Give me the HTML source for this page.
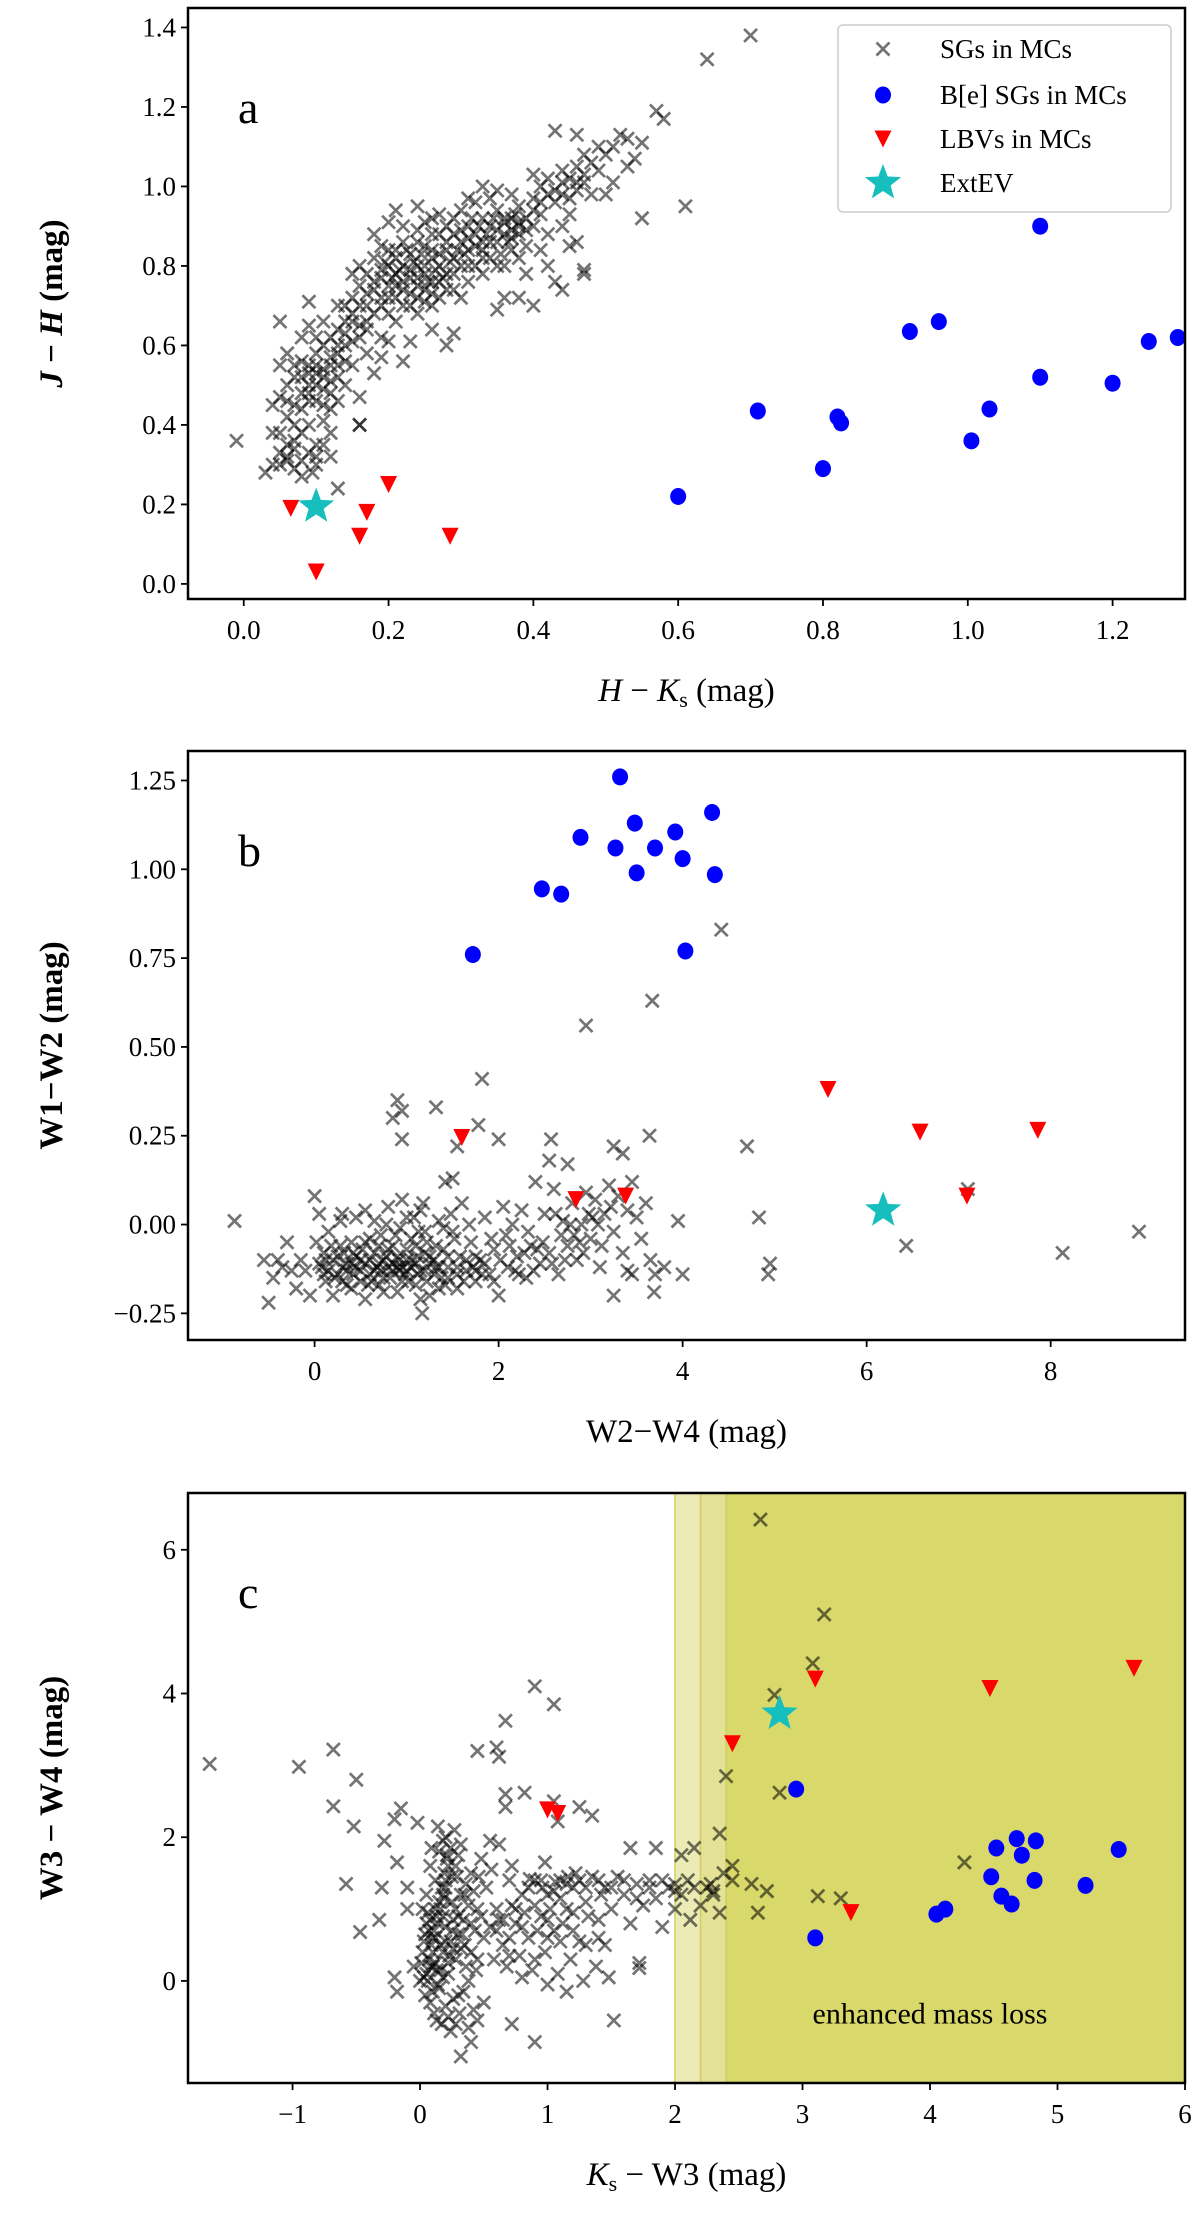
<!DOCTYPE html>
<html><head><meta charset="utf-8">
<style>
html,body{margin:0;padding:0;background:#fff;}
svg{display:block;font-family:"Liberation Serif",serif;}
svg text{font-family:"Liberation Serif",serif;}
</style></head>
<body>
<svg id="fig" width="1200" height="2216" viewBox="0 0 1200 2216" xmlns="http://www.w3.org/2000/svg"></svg>
<script>
// ---------- Panel a data ----------
const sgA = [[-0.01,0.36],[0.03,0.28],[0.04,0.30],[0.05,0.33],[0.04,0.38],[0.06,0.35],[0.07,0.29],[0.08,0.31],[0.06,0.42],[0.05,0.47],[0.07,0.52],[0.08,0.48],[0.09,0.55],[0.10,0.58],[0.08,0.62],[0.09,0.65],[0.11,0.60],[0.12,0.55],[0.10,0.50],[0.11,0.45],[0.09,0.40],[0.10,0.35],[0.08,0.27],[0.07,0.40],[0.06,0.50],[0.05,0.55],[0.04,0.45],[0.12,0.48],[0.13,0.52],[0.12,0.62],[0.13,0.70],[0.14,0.66],[0.15,0.72],[0.14,0.60],[0.11,0.41],[0.10,0.30],[0.12,0.32],[0.13,0.24],[0.095,0.28],[0.05,0.66],[0.09,0.71],[0.15,0.55],[0.16,0.47],[0.17,0.58],[0.16,0.40],[0.06,0.58],[0.07,0.45],[0.09,0.50],[0.10,0.53],[0.08,0.56],[0.11,0.52],[0.12,0.44],[0.14,0.50],[0.15,0.61],[0.16,0.65],[0.17,0.70],[0.18,0.74],[0.19,0.77],[0.20,0.80],[0.18,0.68],[0.19,0.62],[0.17,0.64],[0.16,0.75],[0.16,0.80],[0.15,0.78],[0.17,0.78],[0.18,0.82],[0.19,0.85],[0.20,0.75],[0.21,0.78],[0.22,0.80],[0.21,0.72],[0.20,0.68],[0.22,0.74],[0.23,0.77],[0.23,0.83],[0.24,0.80],[0.25,0.78],[0.24,0.72],[0.25,0.85],[0.26,0.82],[0.26,0.76],[0.27,0.80],[0.28,0.84],[0.27,0.88],[0.28,0.78],[0.29,0.82],[0.30,0.86],[0.30,0.80],[0.31,0.90],[0.31,0.84],[0.32,0.88],[0.32,0.80],[0.33,0.92],[0.33,0.86],[0.34,0.82],[0.34,0.90],[0.35,0.94],[0.35,0.86],[0.36,0.88],[0.36,0.80],[0.37,0.92],[0.37,0.84],[0.38,0.95],[0.38,0.88],[0.39,0.92],[0.39,0.85],[0.40,0.97],[0.40,0.90],[0.41,1.00],[0.41,0.93],[0.42,1.02],[0.42,0.88],[0.43,0.96],[0.44,1.04],[0.44,0.98],[0.45,1.02],[0.45,0.93],[0.46,1.05],[0.46,0.99],[0.47,1.01],[0.47,1.08],[0.48,1.06],[0.49,1.10],[0.50,1.08],[0.51,1.10],[0.51,1.01],[0.52,1.13],[0.53,1.12],[0.54,1.07],[0.55,1.11],[0.57,1.19],[0.58,1.17],[0.64,1.32],[0.70,1.38],[0.43,1.14],[0.46,1.13],[0.61,0.95],[0.55,0.92],[0.47,0.78],[0.47,0.79],[0.46,0.86],[0.44,0.74],[0.43,0.76],[0.40,0.70],[0.38,0.72],[0.35,0.69],[0.36,0.72],[0.29,0.63],[0.28,0.60],[0.23,0.61],[0.20,0.61],[0.22,0.56],[0.19,0.57],[0.18,0.53],[0.16,0.40],[0.21,0.66],[0.24,0.68],[0.26,0.70],[0.27,0.72],[0.29,0.74],[0.31,0.76],[0.33,0.78],[0.22,0.90],[0.20,0.91],[0.18,0.88],[0.25,0.91],[0.27,0.93],[0.30,0.94],[0.32,0.96],[0.34,0.97],[0.23,0.70],[0.21,0.84],[0.24,0.86],[0.26,0.88],[0.28,0.90],[0.29,0.78],[0.30,0.72],[0.25,0.74],[0.19,0.72],[0.17,0.66],[0.14,0.56],[0.13,0.46],[0.12,0.38],[0.11,0.35],[0.07,0.34],[0.06,0.31],[0.05,0.38],[0.08,0.44],[0.09,0.46],[0.10,0.62],[0.11,0.66],[0.13,0.58],[0.15,0.66],[0.36,0.92],[0.38,0.82],[0.39,0.78],[0.41,0.84],[0.42,0.80],[0.44,0.90],[0.45,0.85],[0.48,0.98],[0.49,1.04],[0.50,0.98],[0.53,1.05],[0.40,1.03],[0.37,0.98],[0.35,0.99],[0.33,1.00],[0.31,0.97],[0.24,0.95],[0.21,0.94],[0.26,0.64],
[0.19,0.79],[0.195,0.81],[0.205,0.77],[0.21,0.82],[0.215,0.79],[0.22,0.76],[0.225,0.84],[0.23,0.79],[0.235,0.81],[0.24,0.77],[0.245,0.83],[0.25,0.80],[0.255,0.76],[0.26,0.84],[0.265,0.79],[0.27,0.83],[0.275,0.77],[0.28,0.86],[0.285,0.81],[0.29,0.88],[0.295,0.84],[0.30,0.89],[0.305,0.83],[0.31,0.87],[0.315,0.92],[0.32,0.85],[0.325,0.90],[0.33,0.84],[0.335,0.88],[0.34,0.86],[0.345,0.92],[0.35,0.89],[0.355,0.83],[0.36,0.91],[0.365,0.86],[0.37,0.89],[0.375,0.93],[0.38,0.91],[0.20,0.72],[0.21,0.75],[0.22,0.70],[0.23,0.73],[0.24,0.75],[0.25,0.71],[0.26,0.73],[0.27,0.76],[0.28,0.74],[0.18,0.76],[0.17,0.73],[0.19,0.70],[0.20,0.84],[0.22,0.86],[0.24,0.89],[0.26,0.92],[0.29,0.92],[0.31,0.80],[0.33,0.82],[0.35,0.80],[0.37,0.87],[0.39,0.89],[0.41,0.96],[0.43,0.99],[0.45,0.97],[0.47,1.03],[0.46,1.01],[0.44,1.01],[0.42,0.98],[0.40,0.94],[0.38,0.90],[0.08,0.52],[0.09,0.53],[0.10,0.55],[0.11,0.54],[0.09,0.48],[0.10,0.46],[0.08,0.38],[0.07,0.36],[0.06,0.32],[0.05,0.30],[0.09,0.33],[0.10,0.32],[0.12,0.57],[0.13,0.60],[0.14,0.63],[0.15,0.68],[0.16,0.70],[0.14,0.70],[0.16,0.62],[0.13,0.64],[0.07,0.55],[0.06,0.46],[0.11,0.49],[0.12,0.51],[0.13,0.55]];
const beA = [[0.60,0.22],[0.71,0.435],[0.80,0.29],[0.82,0.42],[0.825,0.405],[0.92,0.635],[0.96,0.66],[1.005,0.36],[1.03,0.44],[1.10,0.90],[1.10,0.52],[1.20,0.505],[1.25,0.61],[1.29,0.62]];
const lbvA = [[0.065,0.19],[0.10,0.03],[0.16,0.12],[0.17,0.18],[0.20,0.25],[0.285,0.12]];
const starA = [[0.10,0.195]];
const xTicksA = [0.0,0.2,0.4,0.6,0.8,1.0,1.2];
const yTicksA = [0.0,0.2,0.4,0.6,0.8,1.0,1.2,1.4];

// ---------- Panel b data ----------
const sgB = [[-0.87,0.01],[4.42,0.83],[3.67,0.63],[2.95,0.56],[1.82,0.41],[0.90,0.35],[0.95,0.32],[0.85,0.30],[1.32,0.33],[0.95,0.24],[1.78,0.28],[2.00,0.24],[2.57,0.24],[3.64,0.25],[4.70,0.22],[3.25,0.22],[3.35,0.20],[2.55,0.18],[4.83,0.02],[3.95,0.01],[6.43,-0.06],[7.10,0.10],[8.13,-0.08],[8.96,-0.02],[4.95,-0.11],[4.93,-0.14],[4.00,-0.14],[3.69,-0.19],[3.45,-0.14],[3.25,-0.20],[1.17,-0.25],[-0.50,-0.22],[1.50,0.13],[1.42,0.12],[2.75,0.17],[1.55,0.22],
[-0.55,-0.10],[-0.45,-0.15],[-0.35,-0.12],[-0.30,-0.05],[-0.20,-0.18],[-0.15,-0.10],[-0.05,-0.20],[0.00,0.08],[0.02,-0.05],[0.05,0.03],[0.08,-0.12],[0.10,-0.08],[0.12,-0.16],[0.15,-0.02],[0.20,-0.10],[0.25,-0.14],[0.28,-0.06],[0.30,0.03],[0.35,-0.11],[0.40,-0.18],[0.42,-0.08],[0.45,0.02],[0.50,-0.13],[0.55,-0.05],[0.58,-0.17],[0.60,-0.10],[0.65,0.01],[0.68,-0.12],[0.70,-0.06],[0.75,-0.15],[0.78,-0.09],[0.80,0.05],[0.85,-0.13],[0.88,-0.03],[0.90,-0.19],[0.92,-0.10],[0.95,0.07],[0.98,-0.14],[1.00,-0.07],[1.05,-0.12],[1.08,0.02],[1.10,-0.17],[1.12,-0.09],[1.15,0.04],[1.20,-0.13],[1.22,-0.05],[1.25,-0.20],[1.30,-0.10],[1.35,0.01],[1.38,-0.15],[1.40,-0.07],[1.45,-0.12],[1.50,-0.02],[1.55,-0.18],[1.58,-0.09],[1.60,0.06],[1.65,-0.13],[1.70,-0.05],[1.75,-0.16],[1.80,-0.10],[1.85,0.02],[1.90,-0.14],[1.95,-0.07],[2.00,-0.20],[2.05,0.05],[2.08,-0.03],[2.10,-0.12],[2.15,0.00],[2.20,-0.09],[2.25,0.04],[2.30,-0.15],[2.35,-0.06],[2.40,0.12],[2.45,-0.11],[2.50,0.03],[2.55,-0.08],[2.60,0.10],[2.65,-0.14],[2.70,0.01],[2.75,-0.06],[2.80,0.06],[2.85,-0.10],[2.90,0.00],[2.95,0.09],[3.00,-0.04],[3.05,0.07],[3.10,-0.12],[3.15,0.03],[3.20,0.11],[3.25,-0.02],[3.30,0.08],[3.35,-0.08],[3.40,0.04],[3.45,0.12],[3.50,0.02],[3.55,-0.04],[3.60,0.06],[3.65,-0.10],[3.70,-0.14],[3.80,-0.12],[3.40,-0.13],
[0.30,-0.12],[0.50,-0.10],[0.60,-0.14],[0.70,-0.11],[0.80,-0.12],[0.90,-0.09],[1.00,-0.13],[1.10,-0.11],[1.20,-0.08],[1.30,-0.14],[0.40,-0.05],[0.65,-0.08],[0.85,-0.06],[1.05,-0.04],[1.25,-0.11],[1.45,-0.15],[0.20,-0.20],[0.35,-0.17],[0.55,-0.21],[0.75,-0.19],[0.95,-0.16],[1.15,-0.21],[1.35,-0.18],[1.55,-0.12],[1.75,-0.09],[1.95,-0.16],[0.10,-0.14],[0.18,-0.06],[0.45,-0.09],[0.72,-0.03],[0.93,-0.01],[1.13,-0.02],[1.32,-0.06],[1.52,-0.04],[1.72,-0.12],[1.92,-0.04],[2.12,-0.06],[2.22,-0.14],[2.32,-0.02],[2.42,-0.07],[0.28,0.01],[0.55,0.04],[0.78,0.00],[1.00,0.02],[1.18,0.06],[1.48,0.03],[1.68,0.00],[2.62,0.03],[2.72,-0.10],[2.82,-0.03],[2.92,-0.08],[3.02,0.02],[3.12,-0.06],[3.22,0.05],
[0.05,-0.11],[0.15,-0.13],[0.25,-0.09],[0.35,-0.13],[0.45,-0.12],[0.55,-0.11],[0.65,-0.13],[0.75,-0.10],[0.85,-0.11],[0.95,-0.12],[1.05,-0.10],[1.15,-0.13],[1.25,-0.09],[1.35,-0.12],[1.45,-0.09],[1.55,-0.14],[1.65,-0.10],[1.75,-0.13],[1.85,-0.11],[0.12,-0.10],[0.22,-0.15],[0.32,-0.08],[0.42,-0.14],[0.52,-0.07],[0.62,-0.16],[0.72,-0.13],[0.82,-0.15],[0.92,-0.13],[1.02,-0.16],[1.12,-0.14],[1.22,-0.16],[1.32,-0.12],[1.42,-0.17],[1.62,-0.16],[1.82,-0.14],[0.60,-0.04],[0.80,-0.07],[1.00,-0.10],[1.20,-0.02],[1.40,-0.01],[0.70,-0.17],[0.90,-0.12],[1.10,-0.06],[0.50,-0.16],[0.40,-0.11],[0.30,-0.16],[-0.10,-0.13],[-0.25,-0.13],[-0.40,-0.10],[2.02,-0.10],[2.18,-0.13],[2.28,-0.08],[2.38,-0.13],[2.48,-0.05],[2.58,-0.11],[2.68,-0.03],[2.78,0.00],[2.88,-0.05],[2.98,0.03],[3.08,0.00]];
const beB = [[1.72,0.76],[2.47,0.945],[2.68,0.93],[2.89,1.09],[3.27,1.06],[3.32,1.26],[3.48,1.13],[3.50,0.99],[3.70,1.06],[3.92,1.105],[4.00,1.03],[4.03,0.77],[4.32,1.16],[4.35,0.985]];
const lbvB = [[1.60,0.245],[2.84,0.07],[3.38,0.08],[5.58,0.38],[6.58,0.26],[7.09,0.08],[7.86,0.265]];
const starB = [[6.18,0.04]];
const xTicksB = [0,2,4,6,8];
const yTicksB = [-0.25,0.00,0.25,0.50,0.75,1.00,1.25];

// ---------- Panel c data ----------
const sgC = [[-1.65,3.02],[-0.95,2.98],[-0.68,3.22],[-0.68,2.43],[-0.50,2.80],[-0.52,2.15],[-0.58,1.35],[-0.47,0.68],[-0.32,0.85],[-0.30,1.30],[-0.28,1.95],[-0.20,2.25],[-0.15,2.40],[-0.18,1.65],[-0.10,1.30],[-0.10,1.00],[-0.20,0.05],[-0.18,-0.15],[-0.05,0.20],[-0.02,2.20],[0.45,3.20],[0.60,3.25],[0.62,3.12],[0.67,3.62],[0.90,4.10],[1.05,3.85],[0.67,2.60],[0.67,2.42],[0.82,2.62],[1.05,2.50],[1.08,2.22],[1.25,2.42],[1.35,2.30],[0.55,1.95],[0.62,1.90],[0.72,1.60],[0.98,1.65],[1.00,-0.05],[1.15,-0.15],[1.52,-0.55],[0.90,-0.85],[0.72,-0.60],[0.32,-1.05],[0.40,-0.85],[1.72,0.18],[1.72,0.25],[1.45,0.50],[1.48,0.05],[1.65,1.85],[1.85,1.85],[2.00,1.35],[2.05,1.75],[2.15,1.85],[2.12,0.85],[2.30,1.25],[2.35,0.95],[2.35,2.05],[2.40,2.85],[2.45,1.60],[2.45,1.40],[2.60,1.35],[2.65,0.95],[2.72,1.25],[2.78,3.98],[2.82,2.62],[2.67,6.42],[3.08,4.42],[3.17,5.10],[3.12,1.18],[3.30,1.15],[4.27,1.65],
[0.00,0.00],[0.02,0.40],[0.05,0.80],[0.05,1.20],[0.08,1.60],[0.08,-0.30],[0.10,0.20],[0.10,0.60],[0.12,1.00],[0.12,1.40],[0.15,1.80],[0.15,-0.10],[0.18,0.40],[0.18,0.90],[0.20,1.30],[0.20,2.00],[0.22,-0.50],[0.22,0.10],[0.25,0.70],[0.25,1.10],[0.28,1.60],[0.28,0.30],[0.30,-0.20],[0.30,0.90],[0.32,1.90],[0.35,0.50],[0.35,1.20],[0.38,0.00],[0.40,0.80],[0.40,1.50],[0.42,-0.40],[0.45,0.30],[0.45,1.00],[0.48,1.70],[0.50,0.60],[0.50,-0.30],[0.03,0.55],[0.06,0.95],[0.13,0.15],[0.16,0.50],[0.19,1.15],[0.23,0.35],[0.26,0.85],[0.29,1.45],[0.33,0.65],[0.36,0.20],[0.04,-0.20],[0.09,1.85],[0.14,2.15],[0.21,1.75],[0.27,2.10],[0.17,-0.60],[0.24,-0.70],[0.31,-0.45],[0.38,-0.65],[0.11,-0.45],[0.01,0.25],[0.07,0.70],[0.20,0.55],[0.32,0.45],[0.43,0.70],
[0.55,0.75],[0.60,1.00],[0.65,0.50],[0.70,1.40],[0.75,0.80],[0.80,1.20],[0.85,0.60],[0.90,1.40],[0.95,0.90],[1.00,1.20],[1.05,0.70],[1.10,1.40],[1.15,1.00],[1.20,1.30],[1.25,0.55],[1.30,1.10],[1.35,1.45],[1.40,0.85],[1.45,1.30],[1.50,1.00],[1.55,1.45],[1.60,1.20],[1.65,0.80],[1.70,1.35],[1.75,1.05],[1.80,1.40],[1.85,1.15],[1.90,0.75],[1.95,1.30],[2.00,1.00],[2.05,1.20],[2.10,1.40],[2.20,1.05],[2.25,1.30],[2.30,1.20],[0.58,0.30],[0.68,0.20],[0.78,0.35],[0.88,0.15],[0.98,0.40],[1.08,0.10],[1.18,0.30],[1.28,0.00],[1.38,0.20],[0.62,0.85],[0.72,1.05],[0.82,0.95],[0.92,0.70],[1.02,1.00],[1.12,0.80],[1.22,1.50],[1.32,0.90],[1.42,1.20],[0.86,1.42],[0.96,1.30],[1.06,1.38],[1.16,1.45],[0.52,1.30],[0.56,1.55],
[0.05,0.10],[0.07,0.30],[0.09,0.50],[0.11,0.70],[0.13,0.90],[0.15,1.10],[0.17,1.30],[0.19,1.50],[0.21,1.70],[0.06,0.00],[0.08,0.20],[0.10,0.40],[0.12,0.60],[0.14,0.80],[0.16,1.00],[0.18,1.20],[0.20,1.40],[0.22,1.60],[0.24,1.85],[0.10,-0.15],[0.14,-0.05],[0.18,0.05],[0.22,0.25],[0.26,0.45],[0.30,0.65],[0.34,0.85],[0.38,1.05],[0.42,1.25],[0.46,1.45],[0.04,0.65],[0.08,0.85],[0.12,0.25],[0.16,0.15],[0.20,0.75],[0.24,0.55],[0.28,1.00],[0.32,1.20],[0.36,1.35],[0.40,0.40],[0.44,0.15],[0.48,0.90],[0.26,-0.25],[0.34,-0.15],[0.20,-0.35],[0.13,-0.55],[0.28,-0.60],[0.45,-0.55],[0.02,1.00],[0.03,0.05],[0.18,1.95],[0.30,1.75],[0.25,1.45],[0.60,0.70],[0.65,0.85],[0.70,0.60],[0.75,1.00],[0.80,0.75],[0.85,1.30],[0.90,1.05],[0.95,1.40],[1.00,0.85],[1.05,1.25],[1.10,1.15],[1.15,1.35],[1.20,0.95],[1.25,1.40],[1.30,1.30],[1.40,1.40],[1.50,1.30],[1.60,1.40],[1.70,1.15],[1.80,1.30],[1.90,1.40],[2.00,1.25],[2.15,1.30],[2.28,1.35],[2.38,1.50],[0.70,0.35],[0.80,0.05],[0.90,0.30],[1.00,0.60],[1.10,0.55],[1.20,0.70],[1.30,0.50],[1.40,0.60]];
const beC = [[2.95,2.67],[3.10,0.60],[4.05,0.93],[4.12,1.00],[4.48,1.45],[4.52,1.85],[4.56,1.18],[4.64,1.07],[4.68,1.98],[4.72,1.75],[4.82,1.40],[4.83,1.95],[5.22,1.33],[5.48,1.83]];
const lbvC = [[1.00,2.38],[1.08,2.33],[2.45,3.30],[3.10,4.20],[3.38,0.95],[4.47,4.07],[5.60,4.35]];
const starC = [[2.82,3.72]];
const bandEdges = [2.0,2.2,2.4];
const xTicksC = [-1,0,1,2,3,4,5,6];
const yTicksC = [0,2,4,6];

// ---------- drawing ----------
const NS = "http://www.w3.org/2000/svg";
const svg = document.getElementById('fig');
function mk(tag, attrs, parent){
  const e = document.createElementNS(NS, tag);
  for (const k in attrs) e.setAttribute(k, attrs[k]);
  (parent||svg).appendChild(e);
  return e;
}
function scale(d0,d1,p0,p1){ return v => p0 + (v-d0)/(d1-d0)*(p1-p0); }

const L = 188, R = 1185;
const FF = '"Liberation Serif", serif';
const panels = {
  a:{top:8,bottom:599,x:scale(-0.077,1.3,L,R),y:scale(-0.038,1.449,599,8)},
  b:{top:751,bottom:1340,x:scale(-1.376,9.46,L,R),y:scale(-0.325,1.333,1340,751)},
  c:{top:1493,bottom:2083,x:scale(-1.82,6.0,L,R),y:scale(-1.42,6.79,2083,1493)}
};

function cross(g,px,py){
  const s=6.5;
  const p = mk('path',{d:`M${px-s},${py-s}L${px+s},${py+s}M${px-s},${py+s}L${px+s},${py-s}`,stroke:'rgba(0,0,0,0.55)','stroke-width':2.7,fill:'none'},g);
  
  
}
function dot(g,px,py){
  const c = mk('ellipse',{cx:px,cy:py,rx:8,ry:8.5,fill:'#0000ff'},g);
  
  
}
function tri(g,px,py){
  const s=8.5;
  const t = mk('polygon',{points:`${px-s},${py-s} ${px+s},${py-s} ${px},${py+s}`,fill:'#ff0000'},g);
  
  
}
function star(g,px,py,r){
  let pts=[];
  for(let i=0;i<10;i++){
    const rr = i%2? r*0.42 : r;
    const a = -Math.PI/2 + i*Math.PI/5;
    pts.push((px+rr*Math.cos(a)).toFixed(1)+','+(py+rr*Math.sin(a)).toFixed(1));
  }
  const s = mk('polygon',{points:pts.join(' '),fill:'#17bebe'},g);
  
  
}

function panel(key, sg, be, lbv, st, xt, yt, xfmt, yfmt, xlab, ylab, letter){
  const P = panels[key];
  const g = mk('g',{'font-family':FF});
  
  
  if(key==='c'){
    const cols=['#ecebb6','#e3e296','#d8d86b'];
    const ends=[bandEdges[1],bandEdges[2],6.0];
    for(let i=0;i<3;i++){
      const x0=P.x(bandEdges[i]), x1=P.x(ends[i]);
      const r = mk('rect',{x:x0,y:P.top,width:x1-x0,height:P.bottom-P.top,fill:cols[i]},g);
      
      
      const ln = mk('line',{x1:x0,x2:x0,y1:P.top,y2:P.bottom,stroke:'#cfcf60','stroke-width':1.5},g);
      
      
    }
    const t = mk('text',{x:P.x(4.0),y:P.y(-0.45)+10,'font-size':30,'text-anchor':'middle',fill:'#000','font-family':FF},g);
    t.textContent='enhanced mass loss';
    
    
  }
  const sgG = mk('g',{},g);
  
  
  sg.forEach(p=>cross(sgG,P.x(p[0]),P.y(p[1])));
  const beG = mk('g',{},g);
  
  
  be.forEach(p=>dot(beG,P.x(p[0]),P.y(p[1])));
  const lG = mk('g',{},g);
  
  
  lbv.forEach(p=>tri(lG,P.x(p[0]),P.y(p[1])));
  st.forEach(p=>star(g,P.x(p[0]),P.y(p[1]),19));
  const fr = mk('rect',{x:L,y:P.top,width:R-L,height:P.bottom-P.top,fill:'none',stroke:'#000','stroke-width':2.5},g);
  
  
  xt.forEach(v=>{
    const px=P.x(v);
    mk('line',{x1:px,x2:px,y1:P.bottom,y2:P.bottom+7,stroke:'#000','stroke-width':1.8},g);
    const t=mk('text',{x:px,y:P.bottom+40,'font-size':27,'text-anchor':'middle','font-family':FF},g);
    t.textContent=xfmt(v);
    
    
  });
  yt.forEach(v=>{
    const py=P.y(v);
    mk('line',{x1:L-7,x2:L,y1:py,y2:py,stroke:'#000','stroke-width':1.8},g);
    const t=mk('text',{x:L-12,y:py+9,'font-size':27,'text-anchor':'end','font-family':FF},g);
    t.textContent=yfmt(v);
    
    
  });
  const xl = mk('text',{x:(L+R)/2,y:P.bottom+102,'font-size':33,'text-anchor':'middle','font-family':FF},g);
  xl.innerHTML = xlab;
  
  
  const yl = mk('text',{x:0,y:0,'font-size':33,'text-anchor':'middle','font-weight':'bold','font-family':FF,transform:`translate(62,${(P.top+P.bottom)/2}) rotate(-90)`},g);
  yl.innerHTML = ylab;
  
  
  const lt = mk('text',{x:238,y:P.top+115,'font-size':46,'font-family':FF},g);
  lt.textContent = letter;
  
  
}
const minus = s => s.replace('-','\u2212');
panel('a',sgA,beA,lbvA,starA,xTicksA,yTicksA,v=>v.toFixed(1),v=>v.toFixed(1),
  '<tspan font-style="italic">H</tspan> \u2212 <tspan font-style="italic">K</tspan><tspan font-size="22" dy="6">s</tspan><tspan dy="-6"> (mag)</tspan>',
  '<tspan font-style="italic">J</tspan> \u2212 <tspan font-style="italic">H</tspan> (mag)','a');
panel('b',sgB,beB,lbvB,starB,xTicksB,yTicksB,v=>String(v),v=>minus(v.toFixed(2)),
  'W2\u2212W4 (mag)','W1\u2212W2 (mag)','b');
panel('c',sgC,beC,lbvC,starC,xTicksC,yTicksC,v=>minus(String(v)),v=>String(v),
  '<tspan font-style="italic">K</tspan><tspan font-size="22" dy="6">s</tspan><tspan dy="-6"> \u2212 W3 (mag)</tspan>',
  'W3 \u2212 W4 (mag)','c');

// legend for panel a
const lg = mk('g',{'font-family':FF});


const lb = mk('rect',{x:838,y:25,width:333,height:187,rx:5,fill:'#fff',stroke:'#cccccc','stroke-width':1.5},lg);


const legendLabels = ['SGs in MCs','B[e] SGs in MCs','LBVs in MCs','ExtEV'];
const legendY = [49,95,139,183];
cross(lg,883,legendY[0]);
dot(lg,883,legendY[1]);
tri(lg,883,legendY[2]);
star(lg,883,legendY[3],19);
legendLabels.forEach((s,i)=>{
  const t = mk('text',{x:940,y:legendY[i]+9,'font-size':27,'font-family':FF},lg);
  t.textContent=s;
  
  
});
</script>
</body></html>
